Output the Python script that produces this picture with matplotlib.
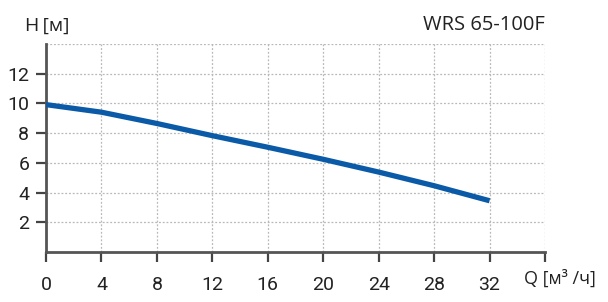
import matplotlib.pyplot as plt
import numpy as np

# pump curve WRS 65-100F
q = [0, 4, 8, 12, 16, 20, 24, 28, 32]
h = [9.92, 9.41, 8.65, 7.83, 7.05, 6.24, 5.38, 4.46, 3.45]
xticks = [0, 4, 8, 12, 16, 20, 24, 28, 32, 36]
xlabels = ['0', '4', '8', '12', '16', '20', '24', '28', '32', '']
yticks = [2, 4, 6, 8, 10, 12]

fig = plt.figure(figsize=(6.08, 3.02), dpi=100)
ax = fig.add_axes([46/608, 50/302, 499/608, 208/302])

ax.plot(q, h, color='#0a5aa8', lw=3.8, solid_capstyle='butt', zorder=3)

ax.set_xlim(0, 36)
ax.set_ylim(0, 14)
ax.set_xticks(xticks)
ax.set_xticklabels(xlabels)
ax.set_yticks(yticks)
ax.set_yticks([14], minor=True)

ax.grid(True, which='both', color='#b8b8b8', ls=(0, (1.5, 1.5)), lw=0.9)
for s in ['top', 'right']:
    ax.spines[s].set_visible(False)
for s in ['left', 'bottom']:
    ax.spines[s].set_color('#555555')
    ax.spines[s].set_linewidth(2)
ax.tick_params(which='major', direction='out', length=7, width=1.6, color='#444444',
               labelsize=14, labelcolor='#222222', pad=5)
ax.tick_params(which='minor', length=0)
for lab in ax.get_xticklabels() + ax.get_yticklabels():
    lab.set_family('Roboto')
ax.tick_params(axis='x', pad=10)

fig.text(25/608, 1 - 31/302, 'H\u2009[м]', fontsize=14, family=['Open Sans', 'DejaVu Sans'], color='#222222')
fig.text(545/608, 1 - 30/302, 'WRS 65-100F', fontsize=14.5, family='Open Sans', color='#222222', ha='right')
fig.text(560/608, 1 - 284/302, 'Q [м\u00b3 /ч]', fontsize=13, family=['Open Sans', 'DejaVu Sans'],
         color='#222222', ha='center')

fig.savefig('out.png', dpi=100)
